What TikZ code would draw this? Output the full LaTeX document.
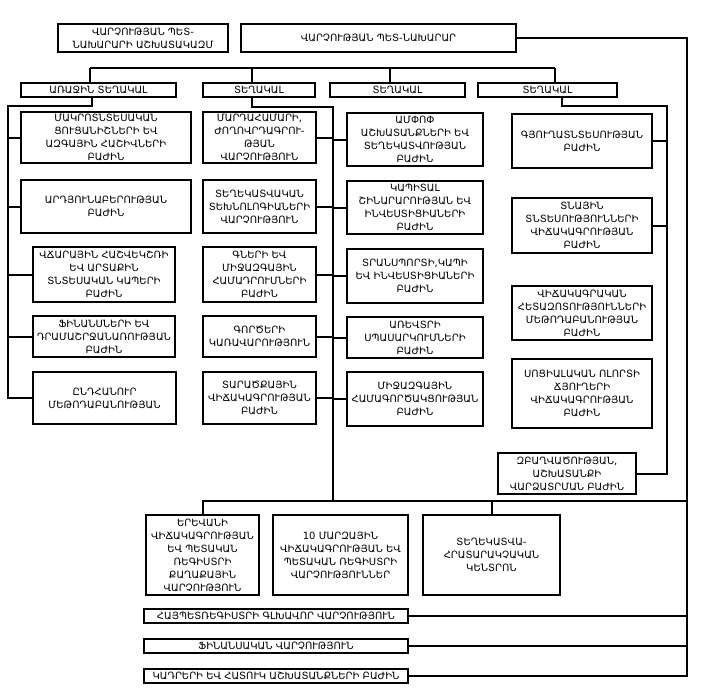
\documentclass[tikz,border=0pt]{standalone}
\usepackage{fontspec}
\setmainfont{DejaVu Sans}

\begin{document}
\begin{tikzpicture}[x=1pt,y=-1pt,
    unit/.style={draw,line width=2pt,align=center,inner sep=0pt,font=\fontsize{10}{13}\selectfont},
    link/.style={line width=2pt}]
    \useasboundingbox (0,0) rectangle (714,693);

    \node[unit,minimum width=170,minimum height=28] (tl) at (143,38) {ՎԱՐՉՈՒԹՅԱՆ ՊԵՏ-\\ՆԱԽԱՐԱՐԻ ԱՇԽԱՏԱԿԱԶՄ};
    \node[unit,minimum width=275,minimum height=28] (head) at (378.5,38) {ՎԱՐՉՈՒԹՅԱՆ ՊԵՏ-ՆԱԽԱՐԱՐ};

    \node[unit,minimum width=155,minimum height=14] (d1) at (98.5,90) {ԱՌԱՋԻՆ ՏԵՂԱԿԱԼ};
    \node[unit,minimum width=112,minimum height=14] (d2) at (259,90) {ՏԵՂԱԿԱԼ};
    \node[unit,minimum width=135,minimum height=14] (d3) at (397.5,90) {ՏԵՂԱԿԱԼ};
    \node[unit,minimum width=139,minimum height=14] (d4) at (547.5,90) {ՏԵՂԱԿԱԼ};

    \node[unit,minimum width=170,minimum height=51] (a1) at (106,137.5) {ՄԱԿՐՈՏՆՏԵՍԱԿԱՆ\\ՑՈՒՑԱՆԻՇՆԵՐԻ ԵՎ\\ԱԶԳԱՅԻՆ ՀԱՇԻՎՆԵՐԻ\\ԲԱԺԻՆ};
    \node[unit,minimum width=170,minimum height=53] (a2) at (106,206.5) {ԱՐԴՅՈՒՆԱԲԵՐՈՒԹՅԱՆ\\ԲԱԺԻՆ};
    \node[unit,minimum width=142,minimum height=55] (a3) at (104,274.5) {ՎՃԱՐԱՅԻՆ ՀԱՇՎԵԿՇՌԻ\\ԵՎ ԱՐՏԱՔԻՆ\\ՏՆՏԵՍԱԿԱՆ ԿԱՊԵՐԻ\\ԲԱԺԻՆ};
    \node[unit,minimum width=142,minimum height=41] (a4) at (104,336.5) {ՖԻՆԱՆՍՆԵՐԻ ԵՎ\\ԴՐԱՄԱՇՐՋԱՆԱՌՈՒԹՅԱՆ\\ԲԱԺԻՆ};
    \node[unit,minimum width=143,minimum height=52] (a5) at (104.5,398) {ԸՆԴՀԱՆՈՒՐ\\ՄԵԹՈԴԱԲԱՆՈՒԹՅԱՆ};

    \node[unit,minimum width=113,minimum height=51] (b1) at (259.5,137.5) {ՄԱՐԴԱՀԱՄԱՐԻ,\\ԺՈՂՈՎՐԴԱԳՐՈՒ-\\ԹՅԱՆ\\ՎԱՐՉՈՒԹՅՈՒՆ};
    \node[unit,minimum width=113,minimum height=53] (b2) at (259.5,206.5) {ՏԵՂԵԿԱՏՎԱԿԱՆ\\ՏԵԽՆՈԼՈԳԻԱՆԵՐԻ\\ՎԱՐՉՈՒԹՅՈՒՆ};
    \node[unit,minimum width=113,minimum height=55] (b3) at (259.5,274.5) {ԳՆԵՐԻ ԵՎ\\ՄԻՋԱԶԳԱՅԻՆ\\ՀԱՄԱԴՐՈՒՄՆԵՐԻ\\ԲԱԺԻՆ};
    \node[unit,minimum width=113,minimum height=41] (b4) at (259.5,336.5) {ԳՈՐԾԵՐԻ\\ԿԱՌԱՎԱՐՈՒԹՅՈՒՆ};
    \node[unit,minimum width=113,minimum height=52] (b5) at (259.5,398) {ՏԱՐԱԾՔԱՅԻՆ\\ՎԻՃԱԿԱԳՐՈՒԹՅԱՆ\\ԲԱԺԻՆ};

    \node[unit,minimum width=136,minimum height=53] (c1) at (415,139.5) {ԱՄՓՈՓ\\ԱՇԽԱՏԱՆՔՆԵՐԻ ԵՎ\\ՏԵՂԵԿԱՏՎՈՒԹՅԱՆ\\ԲԱԺԻՆ};
    \node[unit,minimum width=136,minimum height=53] (c2) at (415,207.5) {ԿԱՊԻՏԱԼ\\ՇԻՆԱՐԱՐՈՒԹՅԱՆ ԵՎ\\ԻՆՎԵՍՏԻՑԻԱՆԵՐԻ\\ԲԱԺԻՆ};
    \node[unit,minimum width=136,minimum height=54] (c3) at (415,276) {ՏՐԱՆՍՊՈՐՏԻ,ԿԱՊԻ\\ԵՎ ԻՆՎԵՍՏԻՑԻԱՆԵՐԻ\\ԲԱԺԻՆ};
    \node[unit,minimum width=136,minimum height=41] (c4) at (415,337.5) {ԱՌԵՎՏՐԻ\\ՍՊԱՍԱՐԿՈՒՄՆԵՐԻ\\ԲԱԺԻՆ};
    \node[unit,minimum width=136,minimum height=54] (c5) at (415,399) {ՄԻՋԱԶԳԱՅԻՆ\\ՀԱՄԱԳՈՐԾԱԿՑՈՒԹՅԱՆ\\ԲԱԺԻՆ};

    \node[unit,minimum width=140,minimum height=54] (e1) at (582,141) {ԳՅՈՒՂԱՏՆՏԵՍՈՒԹՅԱՆ\\ԲԱԺԻՆ};
    \node[unit,minimum width=140,minimum height=55] (e2) at (582,225.5) {ՏՆԱՅԻՆ\\ՏՆՏԵՍՈՒԹՅՈՒՆՆԵՐԻ\\ՎԻՃԱԿԱԳՐՈՒԹՅԱՆ\\ԲԱԺԻՆ};
    \node[unit,minimum width=140,minimum height=54] (e3) at (582,313) {ՎԻՃԱԿԱԳՐԱԿԱՆ\\ՀԵՏԱԶՈՏՈՒԹՅՈՒՆՆԵՐԻ\\ՄԵԹՈԴԱԲԱՆՈՒԹՅԱՆ\\ԲԱԺԻՆ};
    \node[unit,minimum width=140,minimum height=69] (e4) at (582,393.5) {ՍՈՑԻԱԼԱԿԱՆ ՈԼՈՐՏԻ\\ՃՅՈՒՂԵՐԻ\\ՎԻՃԱԿԱԳՐՈՒԹՅԱՆ\\ԲԱԺԻՆ};
    \node[unit,minimum width=138,minimum height=41] (e5) at (567,473.5) {ԶԲԱՂՎԱԾՈՒԹՅԱՆ,\\ԱՇԽԱՏԱՆՔԻ\\ՎԱՐՁԱՏՐՄԱՆ ԲԱԺԻՆ};

    \node[unit,minimum width=113,minimum height=80] (f1) at (202.5,555) {ԵՐԵՎԱՆԻ\\ՎԻՃԱԿԱԳՐՈՒԹՅԱՆ\\ԵՎ ՊԵՏԱԿԱՆ\\ՌԵԳԻՍՏՐԻ\\ՔԱՂԱՔԱՅԻՆ\\ՎԱՐՉՈՒԹՅՈՒՆ};
    \node[unit,minimum width=135,minimum height=80] (f2) at (340.5,555) {10 ՄԱՐԶԱՅԻՆ\\ՎԻՃԱԿԱԳՐՈՒԹՅԱՆ ԵՎ\\ՊԵՏԱԿԱՆ ՌԵԳԻՍՏՐԻ\\ՎԱՐՉՈՒԹՅՈՒՆՆԵՐ};
    \node[unit,minimum width=137,minimum height=80] (f3) at (491.5,555) {ՏԵՂԵԿԱՏՎԱ-\\ՀՐԱՏԱՐԱԿՉԱԿԱՆ\\ԿԵՆՏՐՈՆ};

    \node[unit,minimum width=264,minimum height=14] (g1) at (276,616) {ՀԱՅՊԵՏՌԵԳԻՍՏՐԻ ԳԼԽԱՎՈՐ ՎԱՐՉՈՒԹՅՈՒՆ};
    \node[unit,minimum width=264,minimum height=14] (g2) at (276,645.5) {ՖԻՆԱՆՍԱԿԱՆ ՎԱՐՉՈՒԹՅՈՒՆ};
    \node[unit,minimum width=264,minimum height=14] (g3) at (276,675.5) {ԿԱԴՐԵՐԻ ԵՎ ՀԱՏՈՒԿ ԱՇԽԱՏԱՆՔՆԵՐԻ ԲԱԺԻՆ};

    \draw[link] (90,68) -- (555,68);
    \foreach \x/\n in {90/d1,252/d2,390/d3,555/d4}
      \draw[link] (\x,68) coordinate (t\n) -- (t\n |- \n.north);

    \coordinate (l1) at (8,106);
    \draw[link] ([xshift=-6.5pt]d1.south) |- (l1) -- (l1 |- a5.west) -- (a5.west);
    \foreach \n in {a1,a2,a3,a4}
      \draw[link] (\n.west) -- (\n.west -| l1);

    \coordinate (m1) at (333,107);
    \coordinate (m2) at (333,501);
    \draw[link] ([xshift=-7pt]d2.south) |- (m1) -- (m2);
    \foreach \n in {b1,b2,b3,b4,b5}
      \draw[link] (\n.east) -- (\n.east -| m1);
    \foreach \n in {c1,c2,c3,c4,c5}
      \draw[link] (\n.west) -- (\n.west -| m1);

    \coordinate (r1) at (667,106);
    \draw[link] ([xshift=14.5pt]d4.south) |- (r1) -- (r1 |- e5.east) -- (e5.east);
    \foreach \n in {e1,e2}
      \draw[link] (\n.east) -- (\n.east -| r1);

    \coordinate (o1) at (687,38);
    \coordinate (o2) at (687,501);
    \draw[link] (head.east) -- (o1) -- (o1 |- g3.east) -- (g3.east);
    \foreach \n in {g1,g2}
      \draw[link] (\n.east) -- (\n.east -| o1);
    \draw[link] (o2) -- (f1.north |- o2) -- (f1.north);
    \draw[link] (f3.north |- o2) -- (f3.north);
\end{tikzpicture}
\end{document}
